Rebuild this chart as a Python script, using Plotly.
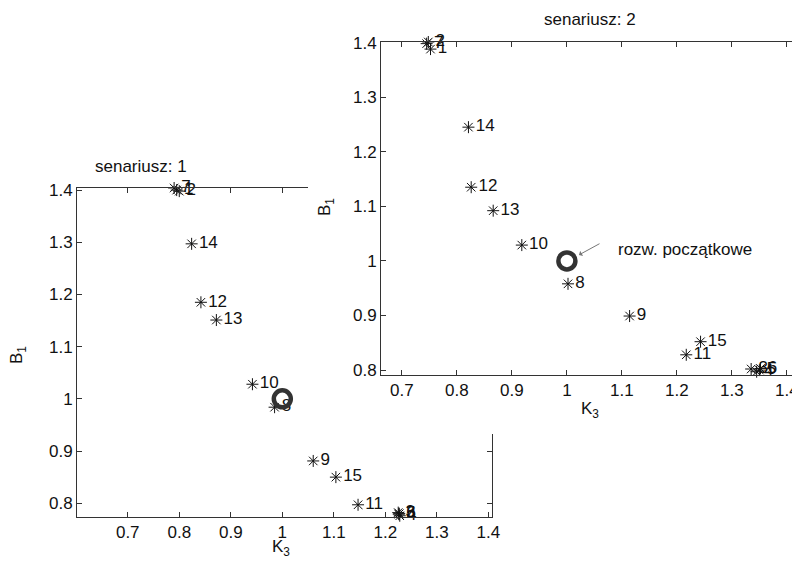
import plotly.graph_objects as go

# ---------------- data ----------------
labels = ["1", "2", "3", "4", "5", "6", "7", "8", "9", "10", "11", "12", "13", "14", "15"]

# scenario 1
k3_s1 = [0.795, 0.800, 1.225, 1.228, 1.226, 1.227, 0.790, 0.985, 1.060, 0.942, 1.147, 0.842, 0.872, 0.824, 1.104]
b1_s1 = [1.400, 1.398, 0.782, 0.776, 0.779, 0.780, 1.404, 0.984, 0.881, 1.028, 0.797, 1.185, 1.151, 1.297, 0.850]

# scenario 2
k3_s2 = [0.752, 0.748, 1.335, 1.345, 1.350, 1.352, 0.745, 1.002, 1.114, 0.918, 1.217, 0.826, 0.866, 0.821, 1.243]
b1_s2 = [1.388, 1.401, 0.802, 0.797, 0.800, 0.803, 1.398, 0.958, 0.899, 1.029, 0.828, 1.135, 1.092, 1.245, 0.852]

start_k3 = [1.0]
start_b1 = [1.0]

titles = ["senariusz: 1", "senariusz: 2"]
start_label = "rozw. początkowe"

tick_vals_x = [0.7, 0.8, 0.9, 1.0, 1.1, 1.2, 1.3, 1.4]
tick_vals_y = [0.8, 0.9, 1.0, 1.1, 1.2, 1.3, 1.4]

W, H = 800, 565
OFF = 8  # page body margin
FONT = "Liberation Sans, Arial, sans-serif"
FS = 17
AX = "#333333"
TXT = "#111111"


def px(x):
    return (x - OFF) / W


def py(y):
    return 1 - (y - OFF) / H


fig = go.Figure()

star = dict(symbol="asterisk-open", size=10, color=TXT, line=dict(width=1, color=TXT))
ring = dict(symbol="circle-open", size=17, color="#333", line=dict(width=4.5, color="#333"))

# left subplot (scenario 1)
fig.add_trace(go.Scatter(x=k3_s1, y=b1_s1, mode="markers+text", text=labels,
                         textposition="middle right", textfont=dict(size=FS, color=TXT),
                         marker=star, xaxis="x", yaxis="y", showlegend=False, cliponaxis=False))
fig.add_trace(go.Scatter(x=start_k3, y=start_b1, mode="markers", marker=ring,
                         xaxis="x", yaxis="y", showlegend=False))

# cover subplot (hides the part of the left plot lying behind the right one)
fig.add_trace(go.Scatter(x=[None], y=[None], xaxis="x2", yaxis="y2", showlegend=False, hoverinfo="skip"))

# right subplot (scenario 2)
fig.add_trace(go.Scatter(x=k3_s2, y=b1_s2, mode="markers+text", text=labels,
                         textposition="middle right", textfont=dict(size=FS, color=TXT),
                         marker=star, xaxis="x3", yaxis="y3", showlegend=False, cliponaxis=False))
fig.add_trace(go.Scatter(x=start_k3, y=start_b1, mode="markers", marker=ring,
                         xaxis="x3", yaxis="y3", showlegend=False))

axis_common = dict(showgrid=False, zeroline=False, showline=True, linecolor=AX, linewidth=1,
                   mirror="ticks", ticks="inside", ticklen=5, tickcolor=AX, automargin=False,
                   tickfont=dict(size=FS, color=TXT, family=FONT))

fig.update_layout(
    template="none",
    width=W, height=H,
    margin=dict(l=0, r=0, t=0, b=0, pad=0),
    paper_bgcolor="white", plot_bgcolor="white",
    font=dict(family=FONT, size=FS, color=TXT),
    xaxis=dict(domain=[px(77), px(492)], range=[0.6015, 1.407], anchor="y",
               tickvals=tick_vals_x, **axis_common),
    yaxis=dict(domain=[py(517), py(188)], range=[0.7736, 1.404], anchor="x",
               tickvals=tick_vals_y, **axis_common),
    xaxis2=dict(domain=[px(308), 1.0], range=[0, 1], anchor="y2", visible=False,
                fixedrange=True, automargin=False),
    yaxis2=dict(domain=[py(434), 1.0], range=[0, 1], anchor="x2", visible=False,
                fixedrange=True, automargin=False),
    xaxis3=dict(domain=[px(381), px(799)], range=[0.662, 1.422], anchor="y3",
                tickvals=tick_vals_x, **axis_common),
    yaxis3=dict(domain=[py(375), py(42)], range=[0.791, 1.401], anchor="x3",
                tickvals=tick_vals_y, **axis_common),
)

# white cover drawn in the cover subplot's layer
fig.add_shape(type="rect", xref="x2", yref="y2", x0=-0.1, x1=1.1, y0=-0.1, y1=1.1,
              fillcolor="white", line=dict(width=0), layer="below")


def note(text, x, y, **kw):
    d = dict(text=text, x=px(x), y=py(y), xref="paper", yref="paper", showarrow=False,
             xanchor="center", yanchor="middle", font=dict(size=FS, color=TXT))
    d.update(kw)
    return d


ann = [
    note(titles[0], 141, 166),
    note(titles[1], 590, 20),
    note("K<sub>3</sub>", 281, 548),
    note("K<sub>3</sub>", 590, 410),
    note("B<sub>1</sub>", 18, 355, textangle=-90),
    note("B<sub>1</sub>", 326, 207, textangle=-90),
    # arrow pointing to the starting solution
    dict(text="", x=1.022, y=1.011, xref="x3", yref="y3", showarrow=True,
         ax=22, ay=-12, arrowhead=1, arrowsize=1, arrowwidth=1, arrowcolor="#777"),
    dict(text=start_label, x=1.09, y=1.02, xref="x3", yref="y3", showarrow=False,
         xanchor="left", yanchor="middle", font=dict(size=FS, color=TXT)),
]
fig.update_layout(annotations=ann)

fig.write_html("out.html")
